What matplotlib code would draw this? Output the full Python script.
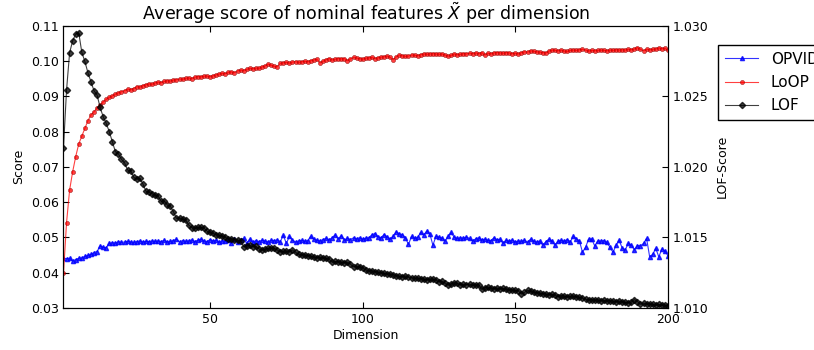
import numpy as np
import matplotlib
matplotlib.use("Agg")
import matplotlib.pyplot as plt

dims = list(range(2, 201))

opvid = [
    0.0441, 0.0440, 0.0441, 0.0433, 0.0437, 0.0441, 0.0442, 0.0446, 0.0449, 0.0452,
    0.0457, 0.0460, 0.0476, 0.0472, 0.0471, 0.0483, 0.0485, 0.0484, 0.0488, 0.0486,
    0.0487, 0.0489, 0.0487, 0.0486, 0.0488, 0.0490, 0.0487, 0.0489, 0.0488, 0.0490,
    0.0489, 0.0490, 0.0488, 0.0492, 0.0487, 0.0489, 0.0491, 0.0495, 0.0487, 0.0491,
    0.0489, 0.0490, 0.0493, 0.0488, 0.0492, 0.0495, 0.0490, 0.0488, 0.0494, 0.0490,
    0.0492, 0.0486, 0.0491, 0.0489, 0.0493, 0.0483, 0.0495, 0.0488, 0.0492, 0.0497,
    0.0483, 0.0495, 0.0486, 0.0491, 0.0488, 0.0492, 0.0490, 0.0487, 0.0492, 0.0491,
    0.0493, 0.0488, 0.0506, 0.0483, 0.0503, 0.0492, 0.0487, 0.0490, 0.0492, 0.0489,
    0.0491, 0.0503, 0.0495, 0.0492, 0.0490, 0.0494, 0.0497, 0.0493, 0.0499, 0.0507,
    0.0495, 0.0505, 0.0492, 0.0497, 0.0494, 0.0499, 0.0496, 0.0499, 0.0495, 0.0498,
    0.0499, 0.0507, 0.0511, 0.0502, 0.0499, 0.0508, 0.0502, 0.0495, 0.0503, 0.0516,
    0.0510, 0.0508, 0.0499, 0.0480, 0.0503, 0.0497, 0.0500, 0.0514, 0.0507, 0.0518,
    0.0510, 0.0478, 0.0503, 0.0501, 0.0498, 0.0490, 0.0503, 0.0514, 0.0500, 0.0497,
    0.0499, 0.0498, 0.0501, 0.0497, 0.0490, 0.0496, 0.0499, 0.0493, 0.0495, 0.0492,
    0.0491, 0.0499, 0.0493, 0.0495, 0.0483, 0.0492, 0.0489, 0.0493, 0.0487, 0.0490,
    0.0489, 0.0492, 0.0486, 0.0495, 0.0489, 0.0487, 0.0490, 0.0478, 0.0488, 0.0495,
    0.0490, 0.0478, 0.0489, 0.0492, 0.0489, 0.0494, 0.0488, 0.0503, 0.0496, 0.0490,
    0.0458, 0.0472, 0.0495, 0.0496, 0.0476, 0.0490, 0.0490, 0.0491, 0.0486, 0.0472,
    0.0458, 0.0478, 0.0492, 0.0470, 0.0465, 0.0483, 0.0478, 0.0465, 0.0477, 0.0476,
    0.0483, 0.0497, 0.0445, 0.0452, 0.0469, 0.0445, 0.0467, 0.0462, 0.0448,
]

loop = [
    0.0398, 0.0542, 0.0634, 0.0686, 0.0729, 0.0765, 0.0787, 0.0809, 0.0831, 0.0847,
    0.0856, 0.0867, 0.0875, 0.0884, 0.0891, 0.0897, 0.0901, 0.0906, 0.0910, 0.0913,
    0.0916, 0.0920, 0.0919, 0.0922, 0.0927, 0.0926, 0.0930, 0.0933, 0.0935, 0.0934,
    0.0938, 0.0940, 0.0939, 0.0942, 0.0944, 0.0943, 0.0946, 0.0947, 0.0949, 0.0948,
    0.0951, 0.0952, 0.0950, 0.0954, 0.0956, 0.0955, 0.0957, 0.0957, 0.0956, 0.0958,
    0.0961, 0.0963, 0.0965, 0.0964, 0.0968, 0.0969, 0.0967, 0.0972, 0.0974, 0.0973,
    0.0976, 0.0979, 0.0978, 0.0980, 0.0979, 0.0983, 0.0986, 0.0991, 0.0988, 0.0985,
    0.0984, 0.0993, 0.0995, 0.0996, 0.0994, 0.0997, 0.0998, 0.0996, 0.0998, 0.0999,
    0.0998, 0.1001, 0.1003, 0.1005, 0.0995, 0.0999, 0.1004, 0.1007, 0.1003, 0.1005,
    0.1007, 0.1006, 0.1007, 0.1001, 0.1006, 0.1010, 0.1008, 0.1007, 0.1005, 0.1008,
    0.1009, 0.1010, 0.1007, 0.1009, 0.1011, 0.1012, 0.1014, 0.1010, 0.1004, 0.1012,
    0.1017, 0.1015, 0.1013, 0.1014, 0.1017, 0.1016, 0.1015, 0.1018, 0.1020, 0.1019,
    0.1020, 0.1021, 0.1020, 0.1019, 0.1020, 0.1017, 0.1014, 0.1016, 0.1020, 0.1018,
    0.1019, 0.1021, 0.1020, 0.1022, 0.1021, 0.1023, 0.1021, 0.1024, 0.1017, 0.1022,
    0.1020, 0.1023, 0.1024, 0.1023, 0.1022, 0.1024, 0.1023, 0.1021, 0.1022, 0.1020,
    0.1024, 0.1026, 0.1025, 0.1029, 0.1027, 0.1026, 0.1025, 0.1024, 0.1023, 0.1028,
    0.1031, 0.1030, 0.1029, 0.1031, 0.1028, 0.1027, 0.1030, 0.1031, 0.1030, 0.1032,
    0.1033, 0.1031, 0.1028, 0.1030, 0.1029, 0.1030, 0.1031, 0.1030, 0.1029, 0.1031,
    0.1030, 0.1032, 0.1031, 0.1032, 0.1031, 0.1033, 0.1032, 0.1034, 0.1038, 0.1033,
    0.1029, 0.1033, 0.1032, 0.1033, 0.1034, 0.1037, 0.1035, 0.1036, 0.1031,
]

lof = [
    1.02135, 1.02544, 1.02808, 1.02893, 1.02941, 1.02950, 1.02811, 1.02747, 1.02667, 1.02603,
    1.02539, 1.02509, 1.02421, 1.02355, 1.02308, 1.02249, 1.02178, 1.02107, 1.02091, 1.02053,
    1.02029, 1.01977, 1.01973, 1.01926, 1.01912, 1.01918, 1.01880, 1.01828, 1.01820, 1.01810,
    1.01800, 1.01792, 1.01755, 1.01760, 1.01730, 1.01720, 1.01682, 1.01635, 1.01640, 1.01628,
    1.01623, 1.01588, 1.01570, 1.01564, 1.01572, 1.01571, 1.01566, 1.01545, 1.01535, 1.01529,
    1.01520, 1.01517, 1.01508, 1.01500, 1.01489, 1.01492, 1.01485, 1.01482, 1.01478, 1.01434,
    1.01440, 1.01445, 1.01434, 1.01438, 1.01420, 1.01411, 1.01415, 1.01422, 1.01425, 1.01423,
    1.01410, 1.01399, 1.01402, 1.01405, 1.01398, 1.01411, 1.01395, 1.01380, 1.01375, 1.01378,
    1.01370, 1.01368, 1.01360, 1.01356, 1.01362, 1.01355, 1.01352, 1.01345, 1.01324, 1.01330,
    1.01328, 1.01325, 1.01322, 1.01325, 1.01310, 1.01292, 1.01298, 1.01290, 1.01285, 1.01270,
    1.01262, 1.01265, 1.01258, 1.01255, 1.01250, 1.01245, 1.01240, 1.01242, 1.01235, 1.01230,
    1.01225, 1.01222, 1.01228, 1.01218, 1.01215, 1.01210, 1.01212, 1.01208, 1.01205, 1.01200,
    1.01205, 1.01205, 1.01198, 1.01186, 1.01190, 1.01175, 1.01163, 1.01170, 1.01180, 1.01175,
    1.01163, 1.01168, 1.01165, 1.01170, 1.01160, 1.01163, 1.01165, 1.01132, 1.01145, 1.01150,
    1.01140, 1.01138, 1.01142, 1.01135, 1.01140, 1.01132, 1.01130, 1.01128, 1.01125, 1.01122,
    1.01099, 1.01110, 1.01125, 1.01118, 1.01112, 1.01108, 1.01105, 1.01102, 1.01099, 1.01095,
    1.01098, 1.01090, 1.01080, 1.01088, 1.01085, 1.01078, 1.01082, 1.01085, 1.01080, 1.01076,
    1.01070, 1.01062, 1.01057, 1.01060, 1.01055, 1.01058, 1.01052, 1.01055, 1.01050, 1.01052,
    1.01049, 1.01045, 1.01050, 1.01043, 1.01040, 1.01038, 1.01042, 1.01059, 1.01045, 1.01026,
    1.01035, 1.01028, 1.01030, 1.01026, 1.01020, 1.01025, 1.01018, 1.01022, 1.01014,
]

plt.rcParams['font.family'] = 'DejaVu Sans'
plt.rcParams['xtick.direction'] = 'in'
plt.rcParams['ytick.direction'] = 'in'

fig = plt.figure(figsize=(8.14, 3.5), dpi=100)
ax = fig.add_axes([0.078, 0.12, 0.7426, 0.8066])
ax2 = ax.twinx()

l1, = ax.plot(dims, opvid, color='#0000ff', marker='^', markersize=3, linewidth=0.8,
              alpha=0.8, label='OPVID')
l2, = ax.plot(dims, loop, color='#ff0000', marker='o', markersize=3, linewidth=0.8,
              markeredgecolor='#880000', markeredgewidth=0.4, alpha=0.75, label='LoOP')
l3, = ax2.plot(dims, lof, color='black', marker='D', markersize=3.2, linewidth=0.8,
               alpha=0.75, label='LOF')

ax.set_xlim(2, 200)
ax.set_ylim(0.03, 0.11)
ax2.set_ylim(1.010, 1.030)
ax.set_xticks([50, 100, 150, 200])
ax.set_yticks(np.arange(0.03, 0.111, 0.01))
ax.yaxis.set_major_formatter(matplotlib.ticker.FormatStrFormatter('%.2f'))
ax2.set_yticks([1.010, 1.015, 1.020, 1.025, 1.030])
ax2.yaxis.set_major_formatter(matplotlib.ticker.FormatStrFormatter('%.3f'))
ax.tick_params(top=True, labelsize=9, length=4)
ax2.tick_params(labelsize=9, length=4)

ax.set_xlabel('Dimension', fontsize=9, labelpad=2)
ax.set_ylabel('Score', fontsize=9)
ax2.set_ylabel('LOF-Score', fontsize=9, labelpad=5)
ax.set_title(r'Average score of nominal features $\tilde{X}$ per dimension',
             fontsize=12.5, pad=4)

fig.legend(handles=[l1, l2, l3], loc='upper left', bbox_to_anchor=(0.882, 0.872),
           borderaxespad=0, fontsize=11, fancybox=False, edgecolor='black',
           framealpha=1, handlelength=2.2, borderpad=0.45, labelspacing=0.55)

fig.savefig('out.png', dpi=100)
